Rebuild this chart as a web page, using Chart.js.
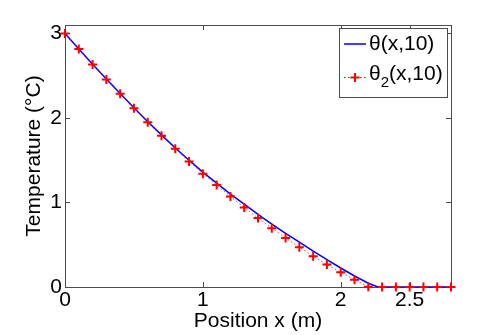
<!DOCTYPE html>
<html>
<head>
<meta charset="utf-8">
<script src="https://cdn.jsdelivr.net/npm/chart.js@4/dist/chart.umd.min.js"></script>
<style>
  html, body { margin: 0; padding: 0; background: #fff; }
  #wrap { width: 498px; height: 335px; position: relative; }
</style>
</head>
<body>
<div id="wrap"><canvas id="chart" width="498" height="335"></canvas></div>
<script>
// exact solution theta(x,10)
const thetaX = [0, 0.1, 0.2, 0.3, 0.4, 0.5, 0.6, 0.7, 0.8, 0.9, 1.0, 1.1, 1.2, 1.3, 1.4, 1.5,
  1.6, 1.7, 1.8, 1.9, 2.0, 2.1, 2.2, 2.27, 2.8];
const thetaY = [3.0, 2.815, 2.635, 2.46, 2.29, 2.12, 1.955, 1.80, 1.645, 1.50, 1.36, 1.23, 1.10,
  0.98, 0.86, 0.745, 0.635, 0.53, 0.425, 0.325, 0.225, 0.13, 0.045, 0, 0];

// approximation theta_2(x,10)
const theta2X = [0, 0.1, 0.2, 0.3, 0.4, 0.5, 0.6, 0.7, 0.8, 0.9, 1.0, 1.1, 1.2, 1.3, 1.4, 1.5,
  1.6, 1.7, 1.8, 1.9, 2.0, 2.1, 2.2, 2.3, 2.4, 2.5, 2.6, 2.7, 2.8];
const theta2Y = [3.0, 2.815, 2.633, 2.456, 2.286, 2.115, 1.949, 1.791, 1.637, 1.486, 1.340, 1.206,
  1.071, 0.941, 0.815, 0.696, 0.581, 0.471, 0.364, 0.265, 0.174, 0.087, 0.004, 0, 0, 0, 0, 0, 0];

const xTicks = [0, 1, 2, 2.5];
const yTicks = [0, 1, 2, 3];

const FONT = 'Liberation Sans, Arial, Helvetica, sans-serif';
const AXIS_COLOR = '#4d4d4d';

function toPoints(xs, ys) {
  return xs.map((x, i) => ({ x: x, y: ys[i] }));
}

// box, inward tick marks and the legend, drawn like the matlab figure
const framePlugin = {
  id: 'frame',
  beforeDatasetsDraw(chart) {
    const { ctx, chartArea: a, scales: { x, y } } = chart;
    ctx.save();
    ctx.strokeStyle = AXIS_COLOR;
    ctx.lineWidth = 1;
    ctx.strokeRect(Math.round(a.left) + 0.5, Math.round(a.top) + 0.5,
      Math.round(a.right - a.left), Math.round(a.bottom - a.top));
    const len = 5;
    ctx.beginPath();
    xTicks.forEach((v) => {
      const px = Math.round(x.getPixelForValue(v)) + 0.5;
      ctx.moveTo(px, a.bottom); ctx.lineTo(px, a.bottom - len);
      ctx.moveTo(px, a.top); ctx.lineTo(px, a.top + len);
    });
    yTicks.forEach((v) => {
      const py = Math.round(y.getPixelForValue(v)) + 0.5;
      ctx.moveTo(a.left, py); ctx.lineTo(a.left + len, py);
      ctx.moveTo(a.right, py); ctx.lineTo(a.right - len, py);
    });
    ctx.stroke();
    ctx.restore();
  },
  afterDraw(chart) {
    const { ctx, chartArea: a } = chart;
    const bx = 339.5, by = 28.5, bw = 108, bh = 69;
    ctx.save();
    ctx.fillStyle = '#fff';
    ctx.fillRect(bx, by, bw, bh);
    ctx.strokeStyle = AXIS_COLOR;
    ctx.lineWidth = 1;
    ctx.strokeRect(bx, by, bw, bh);

    // entry 1
    ctx.strokeStyle = '#0000ff';
    ctx.lineWidth = 1.5;
    ctx.beginPath();
    ctx.moveTo(344, 44); ctx.lineTo(366, 44);
    ctx.stroke();

    // entry 2
    ctx.strokeStyle = '#ff0000';
    ctx.lineWidth = 1;
    ctx.setLineDash([1.5, 2.5]);
    ctx.beginPath();
    ctx.moveTo(344, 77.5); ctx.lineTo(366, 77.5);
    ctx.stroke();
    ctx.setLineDash([]);
    ctx.lineWidth = 2;
    ctx.beginPath();
    ctx.moveTo(355, 73); ctx.lineTo(355, 82);
    ctx.moveTo(350.5, 77.5); ctx.lineTo(359.5, 77.5);
    ctx.stroke();

    ctx.fillStyle = '#000';
    ctx.textBaseline = 'middle';
    ctx.textAlign = 'left';
    ctx.font = '21px ' + FONT;
    ctx.fillText('θ(x,10)', 369, 44);
    ctx.fillText('θ', 369, 74);
    const w = ctx.measureText('θ').width;
    ctx.font = '15px ' + FONT;
    ctx.fillText('2', 369 + w, 83);
    const w2 = ctx.measureText('2').width;
    ctx.font = '21px ' + FONT;
    ctx.fillText('(x,10)', 369 + w + w2, 74);
    ctx.restore();
  }
};

const ctx = document.getElementById('chart').getContext('2d');

const config = {
  type: 'line',
  data: {
    datasets: [
      {
        label: 'θ(x,10)',
        data: toPoints(thetaX, thetaY),
        borderColor: '#0000ff',
        borderWidth: 1.5,
        pointRadius: 0,
        tension: 0,
        clip: false,
        order: 2
      },
      {
        label: 'θ2(x,10)',
        data: toPoints(theta2X, theta2Y),
        borderColor: 'rgba(255,0,0,0.75)',
        borderWidth: 1,
        borderDash: [1.5, 2.5],
        pointStyle: 'cross',
        pointRadius: 4.5,
        pointBorderWidth: 2,
        pointBorderColor: '#ff0000',
        tension: 0,
        clip: false,
        order: 1
      }
    ]
  },
  options: {
    responsive: false,
    animation: false,
    layout: { padding: { top: 25, right: 47, left: 0, bottom: 0 } },
    plugins: {
      legend: { display: false },
      tooltip: { enabled: false }
    },
    scales: {
      x: {
        type: 'linear',
        min: 0,
        max: 2.8,
        afterBuildTicks: (scale) => { scale.ticks = xTicks.map((v) => ({ value: v })); },
        afterFit: (scale) => { scale.height = 48; },
        grid: { display: false, drawTicks: false },
        border: { display: false },
        ticks: {
          padding: 1,
          color: '#000',
          maxRotation: 0,
          font: { family: FONT, size: 21 },
          callback: (value) => value
        },
        title: {
          display: true,
          text: 'Position x (m)',
          color: '#000',
          font: { family: FONT, size: 21, lineHeight: 1.2 },
          padding: { top: 0, bottom: 1 }
        }
      },
      y: {
        min: 0,
        max: 3.1,
        afterBuildTicks: (scale) => { scale.ticks = yTicks.map((v) => ({ value: v })); },
        afterFit: (scale) => { scale.width = 65; },
        grid: { display: false, drawTicks: false },
        border: { display: false },
        ticks: {
          padding: 3,
          color: '#000',
          font: { family: FONT, size: 21 },
          callback: (value) => value
        },
        title: {
          display: true,
          text: 'Temperature (°C)',
          color: '#000',
          font: { family: FONT, size: 21, lineHeight: 1.2 },
          padding: { top: 22, bottom: 0 }
        }
      }
    }
  },
  plugins: [framePlugin]
};

const chart = new Chart(ctx, config);
</script>
</body>
</html>
